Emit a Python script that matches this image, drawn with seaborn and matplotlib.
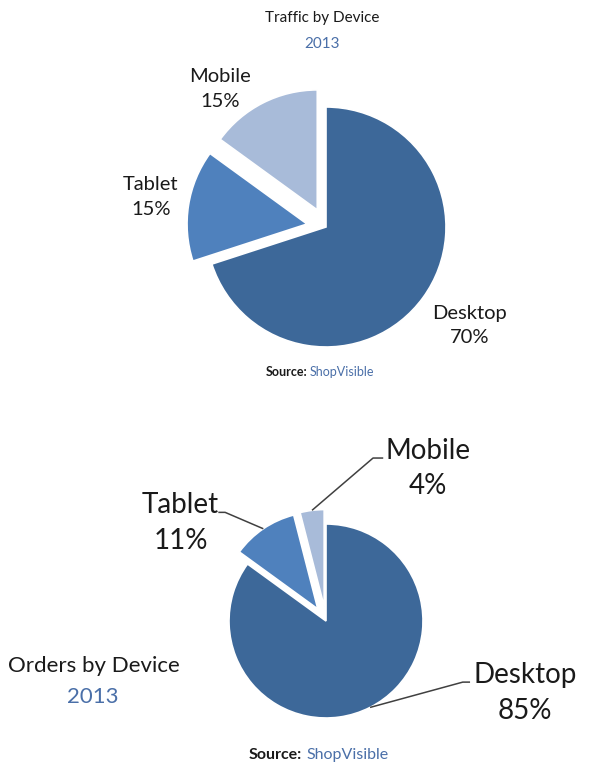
import numpy as np
import matplotlib
matplotlib.use("Agg")
import matplotlib.pyplot as plt
import seaborn as sns

# ---- data ----
devices = ["Desktop", "Tablet", "Mobile"]
traffic_pct = [70, 15, 15]
orders_pct = [85, 11, 4]
year = "2013"
traffic_title = "Traffic by Device"
orders_title = "Orders by Device"
source_label = "Source:"
source_name = "ShopVisible"

sns.set_theme(style="white")
plt.rcParams["font.family"] = ["Lato", "DejaVu Sans"]

colors = ["#3D6899", "#4F81BD", "#A8BBD9"]
blue_text = "#4A6FA8"
W, H = 600, 777
fig = plt.figure(figsize=(W / 100, H / 100), dpi=100)
fig.patch.set_facecolor("white")


def make_axes(cx, cy, r):
    # cx, cy in pixels from top-left; axes spanning 4 radii, data units = radius
    ax = fig.add_axes([(cx - 2 * r) / W, (H - cy - 2 * r) / H, 4 * r / W, 4 * r / H])
    ax.set_xlim(-2, 2)
    ax.set_ylim(-2, 2)
    ax.set_aspect("equal")
    ax.axis("off")
    return ax


def draw_pie(ax, values, explode):
    wedges, _ = ax.pie(values, colors=colors, startangle=90, counterclock=False,
                       explode=explode, radius=1,
                       wedgeprops=dict(edgecolor="white", linewidth=1.2))
    ax.set_xlim(-2, 2)
    ax.set_ylim(-2, 2)
    return wedges


def edge_point(w, rfac=1.0):
    mid = np.deg2rad((w.theta1 + w.theta2) / 2)
    cx, cy = w.center
    return cx + w.r * rfac * np.cos(mid), cy + w.r * rfac * np.sin(mid)


# ---- top pie ----
ax1 = make_axes(326, 227, 120)
w1 = draw_pie(ax1, traffic_pct, [0, 0.16, 0.16])
tfs = 14.5
top_pos = {"Desktop": (1.2, -0.82), "Tablet": (-1.46, 0.25), "Mobile": (-0.88, 1.15)}
for name, val in zip(devices, traffic_pct):
    x, y = top_pos[name]
    ax1.text(x, y, f"{name}\n{val}%", ha="center", va="center", fontsize=tfs,
             color="#1a1a1a", linespacing=1.55)

fig.text(322 / W, 1 - 18 / H, traffic_title, ha="center", va="center", fontsize=11, color="#1a1a1a")
fig.text(322 / W, 1 - 44 / H, year, ha="center", va="center", fontsize=11, color=blue_text)
fig.text(307 / W, 1 - 372 / H, source_label, ha="right", va="center", fontsize=9,
         fontweight="bold", color="#1a1a1a")
fig.text(310 / W, 1 - 372 / H, source_name, ha="left", va="center", fontsize=9, color=blue_text)

# ---- bottom pie ----
ax2 = make_axes(326, 621, 97)
w2 = draw_pie(ax2, orders_pct, [0, 0.15, 0.15])
bfs = 20
bot_label = {"Desktop": (2.05, -0.74), "Tablet": (-1.5, 1.01), "Mobile": (1.05, 1.57)}
elbows = {"Desktop": [(1.41, -0.63), (1.485, -0.63)],
          "Tablet": [(-1.04, 1.12), (-1.11, 1.12)],
          "Mobile": [(0.485, 1.68), (0.59, 1.68)]}
for w, name, val in zip(w2, devices, orders_pct):
    sx, sy = edge_point(w)
    pts = [(sx, sy)] + elbows[name]
    ax2.plot([p[0] for p in pts], [p[1] for p in pts], color="#404040", lw=1.1,
             solid_capstyle="butt", clip_on=False)
    x, y = bot_label[name]
    ax2.text(x, y, f"{name}\n{val}%", ha="center", va="center", fontsize=bfs,
             color="#1a1a1a", linespacing=1.45)

fig.text(94 / W, 1 - 666 / H, orders_title, ha="center", va="center", fontsize=16, color="#1a1a1a")
fig.text(93 / W, 1 - 697 / H, year, ha="center", va="center", fontsize=16, color=blue_text)
fig.text(302 / W, 1 - 755 / H, source_label, ha="right", va="center", fontsize=11.5,
         fontweight="bold", color="#1a1a1a")
fig.text(306 / W, 1 - 755 / H, source_name, ha="left", va="center", fontsize=11.5, color=blue_text)

fig.savefig("out.png", dpi=100, facecolor="white")
